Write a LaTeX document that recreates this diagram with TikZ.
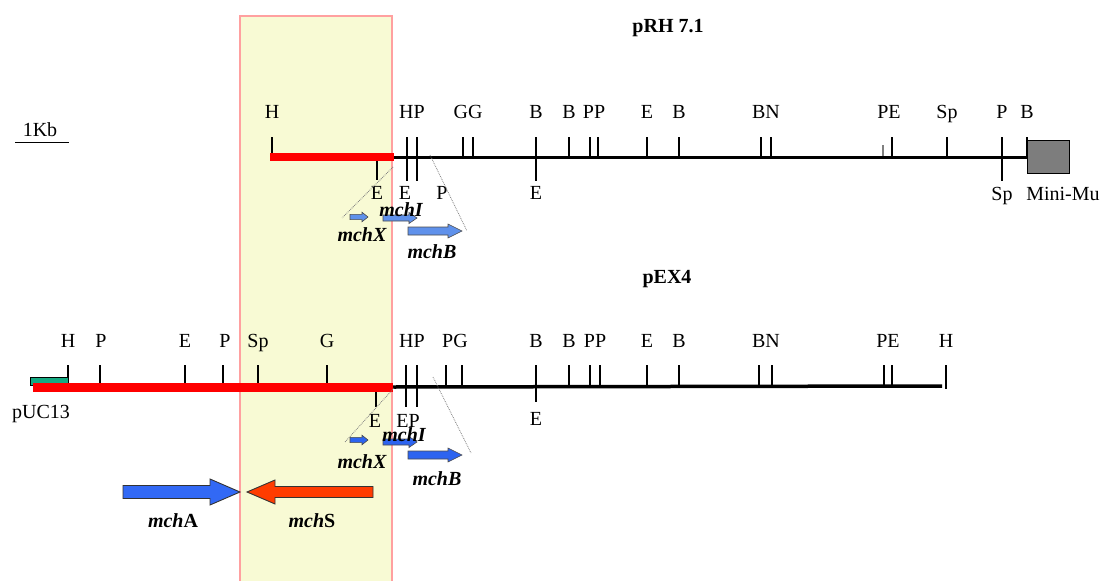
\documentclass[tikz,border=0pt]{standalone}
\usepackage{fontspec}
\setmainfont{Liberation Serif}
\definecolor{boxfill}{RGB}{248,250,212}
\definecolor{boxedge}{RGB}{255,160,160}
\definecolor{insertred}{RGB}{255,0,0}
\definecolor{mugray}{RGB}{125,125,125}
\definecolor{pucgreen}{RGB}{20,170,130}
\definecolor{genelight}{RGB}{95,145,235}
\definecolor{genedeep}{RGB}{45,100,240}
\definecolor{mchsred}{RGB}{255,60,0}
\definecolor{mchablue}{RGB}{50,105,245}
\tikzset{
  site/.style={font=\fontsize{20}{20}\selectfont, inner sep=0pt, anchor=base},
  gene/.style={font=\fontsize{20}{20}\selectfont\bfseries\itshape, inner sep=0pt, anchor=base},
  plasmid/.style={font=\fontsize{20}{20}\selectfont\bfseries, inner sep=0pt, anchor=base},
  cut/.style={line width=1.2pt, black},
  backbone/.style={line width=3pt, black},
  insert/.style={line width=8.5pt, insertred},
  zoomline/.style={gray, densely dotted, line width=0.8pt},
  smallgene/.style={draw=black!70, line width=0.6pt, fill=#1},
  biggene/.style={draw=black!80, line width=0.9pt, fill=#1},
}
% #1 name, #2 tail x, #3 tip x, #4 axis y, #5 body half-height,
% #6 head half-height, #7 head length (negative for leftward arrows), #8 style
\newcommand\geneArrow[8]{%
  \draw[#8] (#2,#4-#5) -- ({#3-(#7)},#4-#5) -- ({#3-(#7)},#4-#6) -- (#3,#4)
    -- ({#3-(#7)},#4+#6) -- ({#3-(#7)},#4+#5) -- (#2,#4+#5) -- cycle;
  \coordinate (#1) at (#2,#4);}
\begin{document}
\begin{tikzpicture}[x=1pt,y=-1pt]
\useasboundingbox (0,0) rectangle (1111,581);

% highlighted region shared by both maps
\fill[boxfill] (240,16) rectangle (392,581);
\draw[boxedge, line width=1.5pt] (240,581) -- (240,16) -- (392,16) -- (392,581);

% ---------------- pRH 7.1 ----------------
\node[plasmid] (tA) at (668,32) {pRH 7.1};

% scale bar
\node[site] (kb) at (40,136) {1Kb};
\coordinate (kbL) at (15,142);
\coordinate (kbR) at (69,142);
\draw[line width=1pt] (kbL) -- (kbR);

% cut sites above the line
\foreach \x in {272,463,473,569,590,598,647,679,761,771,892,947,1027}
  \draw[cut] (\x,137) -- (\x,157);
\draw[cut, gray] (883,145) -- (883,157);
% cut sites crossing the line
\foreach \x in {407,417,536,1002}
  \draw[cut] (\x,137) -- (\x,181);
\draw[cut] (377,157) -- (377,180);

\coordinate (a0) at (270,157);
\coordinate (a1) at (394,157);
\coordinate (a2) at (1027,157);
\draw[backbone] (a1) -- (a2);
\draw[insert] (a0) -- (a1);
\node[draw=black, line width=1.2pt, fill=mugray, minimum width=42pt, minimum height=33pt,
      inner sep=0pt, anchor=north west] (mu) at (1027,140) {};

\foreach \t/\x [count=\i] in {H/272,HP/412,GG/468,B/536,B/569,PP/594,E/647,B/679,BN/766,PE/889,Sp/947,P/1002,B/1027}
  \node[site] (ta\i) at (\x,118) {\t};
\node[site] (tb1) at (377,199) {E};
\node[site] (tb2) at (405,199) {E};
\node[site] (tb3) at (442,199) {P};
\node[site] (tb4) at (536,199) {E};
\node[site] (tb5) at (1002,200) {Sp};
\node[site] (tb6) at (1063,200) {Mini-Mu};

% enlargement of the mch region
\coordinate (zA1) at (393,167);
\coordinate (zA2) at (342,218);
\coordinate (zA3) at (430,155);
\coordinate (zA4) at (467,231);
\draw[zoomline] (zA1) -- (zA2);
\draw[zoomline] (zA3) -- (zA4);
\geneArrow{gX1}{350}{368}{217}{2.6}{4.8}{6}{smallgene=genelight}
\geneArrow{gI1}{383}{417}{218}{3}{5.5}{8}{smallgene=genelight}
\geneArrow{gB1}{408}{462}{231}{4}{7}{14}{smallgene=genelight}
\node[gene] (lX1) at (362,241) {mchX};
\node[gene] (lI1) at (401,216) {mchI};
\node[gene] (lB1) at (432,258) {mchB};

% ---------------- pEX4 ----------------
\node[plasmid] (tB) at (667,283) {pEX4};

\foreach \x in {68,100,185,223,258,327,446,462,569,590,600,647,679,759,772,884,892}
  \draw[cut] (\x,365) -- (\x,386);
\draw[cut] (946,365) -- (946,389);
\foreach \x in {406,417}
  \draw[cut] (\x,365) -- (\x,407);
\draw[cut] (536,365) -- (536,402);
\draw[cut] (376,387) -- (376,407);

\node[draw=black, line width=1pt, fill=pucgreen, minimum width=38pt, minimum height=8pt,
      inner sep=0pt, anchor=south west] (puc) at (30,386) {};
\coordinate (b0) at (33,387);
\coordinate (b1) at (393,387);
\coordinate (b2) at (942,386);
\draw[backbone, line width=3.5pt] (b1) -- (b2);
\draw[insert, line width=9pt] (b0) -- (b1);

\foreach \t/\x [count=\i] in {H/68,P/101,E/185,P/225,Sp/258,G/327,HP/412,PG/455,B/536,B/569,PP/595,E/647,B/679,BN/766,PE/888,H/946}
  \node[site] (ba\i) at (\x,347) {\t};
\node[site] (bb1) at (375,427) {E};
\node[site] (bb2) at (408,427) {EP};
\node[site] (bb3) at (536,425) {E};
\node[site] (pucl) at (41,418) {pUC13};

\coordinate (zB1) at (394,388);
\coordinate (zB2) at (345,442);
\coordinate (zB3) at (433,377);
\coordinate (zB4) at (471,453);
\draw[zoomline] (zB1) -- (zB2);
\draw[zoomline] (zB3) -- (zB4);
\geneArrow{gX2}{350}{368}{440}{2.6}{4.8}{6}{smallgene=genedeep}
\geneArrow{gI2}{383}{417}{442}{3}{5.5}{8}{smallgene=genedeep}
\geneArrow{gB2}{408}{462}{455}{4}{7}{14}{smallgene=genedeep}
\node[gene] (lX2) at (362,468) {mchX};
\node[gene] (lI2) at (404,441) {mchI};
\node[gene] (lB2) at (437,485) {mchB};

% divergent mchA / mchS genes
\geneArrow{gA}{123}{240}{492}{6.5}{13}{30}{biggene=mchablue}
\geneArrow{gS}{373}{247}{492}{5.5}{12}{-28}{biggene=mchsred}
\node[gene] (lA) at (173,527) {mch\normalfont\bfseries A};
\node[gene] (lS) at (312,527) {mch\normalfont\bfseries S};
\end{tikzpicture}
\end{document}
